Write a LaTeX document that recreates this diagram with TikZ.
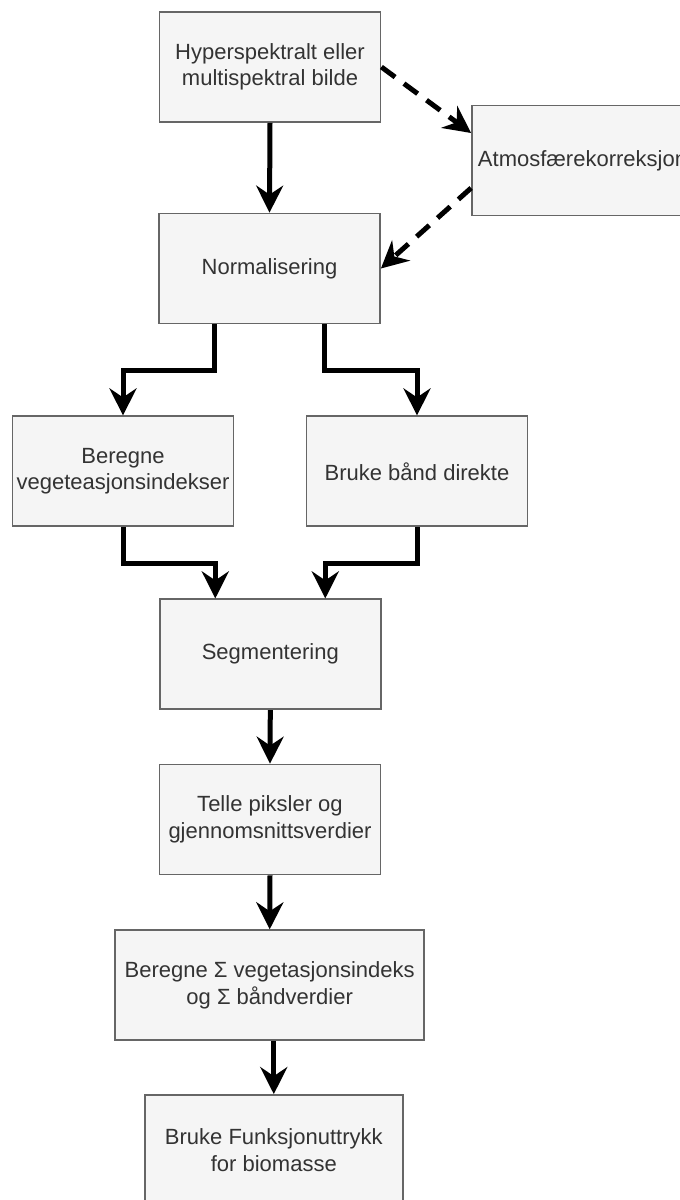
\documentclass[tikz,border=0pt]{standalone}
\usepackage{fontspec}
\setmainfont{Liberation Sans}
\usetikzlibrary{arrows.meta}
\definecolor{boxfill}{HTML}{F5F5F5}
\definecolor{boxline}{HTML}{666666}
\definecolor{boxtext}{HTML}{333333}
\tikzset{
  stepbox/.style={draw=boxline, fill=boxfill, line width=1.8pt, text=boxtext,
    inner sep=0pt, align=center, minimum width=221pt, minimum height=110pt,
    font=\fontsize{22}{26.5}\selectfont},
  flow/.style={draw=black, line width=5pt,
    -{Stealth[length=27pt, width=27pt, inset=9pt]}},
  optflow/.style={flow, dash pattern=on 17pt off 11pt}
}
\begin{document}
\begin{tikzpicture}[x=1pt, y=-1pt]
\useasboundingbox (0,0) rectangle (680,1200);
\clip (0,0) rectangle (680,1200);
\fill[white] (0,0) rectangle (680,1200);

% process steps
\node[stepbox] (src) at (270,67) {Hyperspektralt eller\\multispektral bilde};
\node[stepbox] (atm) at (582.5,160.5) {Atmosfærekorreksjon};
\node[stepbox] (norm) at (269.5,268.5) {Normalisering};
\node[stepbox] (vi) at (123,471.3) {Beregne\\vegeteasjonsindekser};
\node[stepbox] (band) at (417,471.3) {Bruke bånd direkte};
\node[stepbox] (seg) at (270.3,654.3) {Segmentering};
\node[stepbox] (count) at (270,819.5) {Telle piksler og\\gjennomsnittsverdier};
\node[stepbox, minimum width=309pt] (sum) at (269.7,985.2) {Beregne Σ vegetasjonsindeks\\og Σ båndverdier};
\node[stepbox, minimum width=258pt] (bio) at (273.8,1150) {Bruke Funksjonuttrykk\\for biomasse};

% main flow
\draw[flow] (src.south) -- (norm.north);
\draw[flow] ([xshift=-55pt]norm.south) -- ++(0,46.5) -| (vi.north);
\draw[flow] ([xshift=55pt]norm.south) -- ++(0,46.5) -| (band.north);
\draw[flow] (vi.south) -- ++(0,36.3) -| ([xshift=-55pt]seg.north);
\draw[flow] (band.south) -- ++(0,36.3) -| ([xshift=55pt]seg.north);
\draw[flow] (seg.south) -- (count.north);
\draw[flow] (count.south) -- (sum.north);
\draw[flow] (sum.south -| bio.north) -- (bio.north);

% optional atmospheric correction
\draw[optflow] (src.east) -- ([yshift=27.5pt]atm.west);
\draw[optflow] ([yshift=-27.5pt]atm.west) -- (norm.east);
\end{tikzpicture}
\end{document}
